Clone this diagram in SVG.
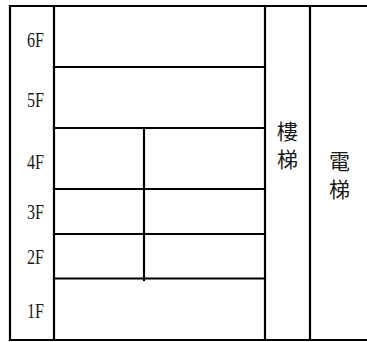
<svg xmlns="http://www.w3.org/2000/svg" width="367" height="342" viewBox="0 0 367 342">
  <style>
    .ln { stroke: #000; stroke-width: 2.2; fill: none; stroke-linecap: square; }
    .fl { font-family: "Liberation Serif", "DejaVu Serif", serif; font-size: 21px; fill: #1a1a1a; }
    .cjk { font-family: "Noto Sans CJK TC", "Noto Sans CJK SC", sans-serif; font-size: 21px; fill: #1a1a1a; text-anchor: middle; }
  </style>
  <rect width="367" height="342" fill="#fff"/>
  <g id="connectors">
    <line class="ln" x1="10" y1="6" x2="368" y2="6"/>
    <line class="ln" x1="10" y1="340" x2="368" y2="340"/>
    <line class="ln" x1="10" y1="6" x2="10" y2="340"/>
    <line class="ln" x1="54" y1="6" x2="54" y2="340"/>
    <line class="ln" x1="265" y1="6" x2="265" y2="340"/>
    <line class="ln" x1="310" y1="6" x2="310" y2="340"/>
    <line class="ln" x1="54" y1="67" x2="265" y2="67"/>
    <line class="ln" x1="54" y1="128" x2="265" y2="128"/>
    <line class="ln" x1="54" y1="189" x2="265" y2="189"/>
    <line class="ln" x1="54" y1="234" x2="265" y2="234"/>
    <line class="ln" x1="54" y1="278.5" x2="265" y2="278.5"/>
    <line class="ln" x1="144" y1="128" x2="144" y2="280"/>
  </g>
  <g id="floor-6F"><text class="fl" x="27" y="46.5" textLength="17" lengthAdjust="spacingAndGlyphs">6F</text></g>
  <g id="floor-5F"><text class="fl" x="27" y="106.7" textLength="17" lengthAdjust="spacingAndGlyphs">5F</text></g>
  <g id="floor-4F"><text class="fl" x="27" y="168.5" textLength="17" lengthAdjust="spacingAndGlyphs">4F</text></g>
  <g id="floor-3F"><text class="fl" x="27" y="219" textLength="17" lengthAdjust="spacingAndGlyphs">3F</text></g>
  <g id="floor-2F"><text class="fl" x="27" y="264" textLength="17" lengthAdjust="spacingAndGlyphs">2F</text></g>
  <g id="floor-1F"><text class="fl" x="27" y="317.5" textLength="17" lengthAdjust="spacingAndGlyphs">1F</text></g>
  <g id="stairs">
    <text class="cjk" x="287.5" y="138.5">樓</text>
    <text class="cjk" x="287.5" y="166.5">梯</text>
  </g>
  <g id="elevator">
    <text class="cjk" x="339.5" y="168.5">電</text>
    <text class="cjk" x="339.5" y="196.5">梯</text>
  </g>
</svg>
